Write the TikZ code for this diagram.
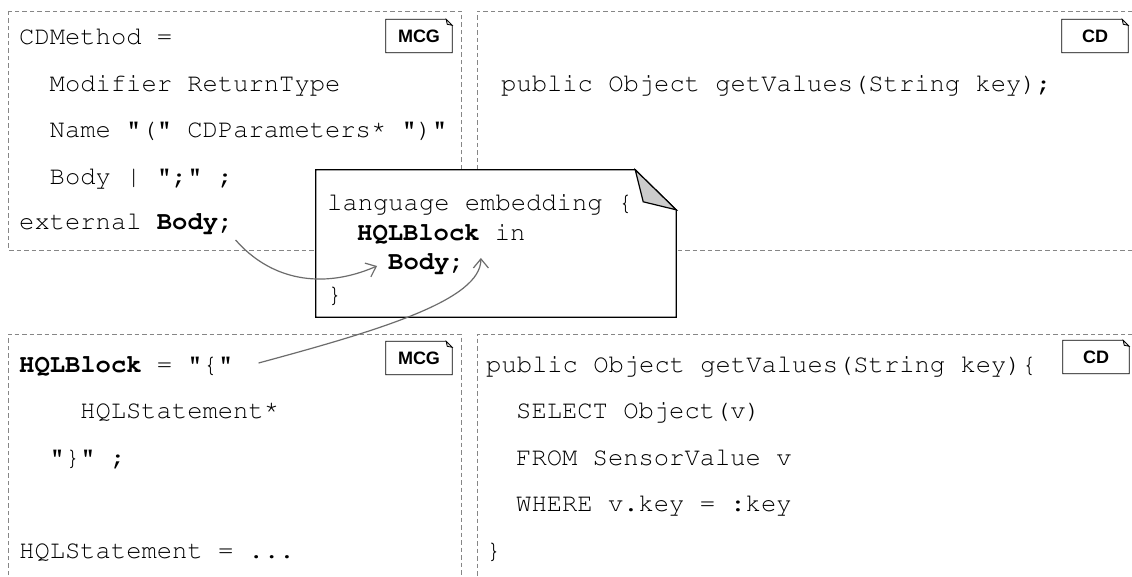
\documentclass[tikz,border=0pt]{standalone}
\usepackage[T1]{fontenc}
\usepackage{fontspec}
\newfontfamily\tagfont{Liberation Sans}
\newcommand{\cour}{\fontencoding{T1}\fontfamily{pcr}\fontsize{25.5}{30}\selectfont}
\newcommand{\raisedstar}{\raisebox{4pt}{*}}
\usetikzlibrary{arrows.meta,calc}
\newcommand{\dogear}[1]{%
  \draw[tagline] (#1.south west) -- (#1.north west) -- ([xshift=-6pt]#1.north east)
     -- ([yshift=-6pt]#1.north east) -- (#1.south east) -- cycle;
  \draw[tagline,fill=gray!25] ([xshift=-6pt]#1.north east) -- ([xshift=-5pt,yshift=-5pt]#1.north east)
     -- ([yshift=-6pt]#1.north east) -- cycle;}
\begin{document}
\begin{tikzpicture}[x=1pt,y=-1pt,
  code/.style={font=\cour, anchor=base west, inner sep=0pt},
  panel/.style={draw=gray!95, line width=0.9pt, dash pattern=on 4.5pt off 3pt},
  tag/.style={inner sep=0pt, minimum width=66pt, minimum height=33pt,
              font=\tagfont\bfseries\fontsize{18}{18}\selectfont},
  tagline/.style={draw=black, line width=0.8pt},
  notefr/.style={draw=black, line width=1.2pt, line join=miter},
  conn/.style={draw=gray!85!black, line width=1.2pt, -{Straight Barb[length=9pt,width=15pt]}}
]
\useasboundingbox (0,0) rectangle (1132,577);
\clip (0,0) rectangle (1132,577);
\fill[white] (0,0) rectangle (1132,577);

% panels
\draw[panel] (8,11) rectangle (461,250);
\draw[panel] (1140,11) -- (477,11) -- (477,250) -- (1140,250);
\draw[panel] (8,590) -- (8,334) -- (461,334) -- (461,590);
\draw[panel] (1140,334) -- (477,334) -- (477,590);

% tags
\node[tag] (t1) at (419,36) {MCG}; \dogear{t1}
\node[tag] (t2) at (1095,36) {CD}; \dogear{t2}
\node[tag] (t3) at (419,358) {MCG}; \dogear{t3}
\node[tag] (t4) at (1096,357) {CD}; \dogear{t4}

% top-left grammar
\node[code] (a1) at (19,45) {CDMethod =};
\node[code] (a2) at (49.5,92) {Modifier ReturnType};
\node[code] (a3) at (49.5,138) {Name "(" CDParameters\raisedstar{} ")"};
\node[code] (a4) at (49.5,185) {Body | ";" ;};
\node[code] (extbody) at (19,230) {external \textbf{Body;}};

% top-right
\node[code] (b1) at (501,92) {public Object getValues(String key);};

% bottom-left grammar
\node[code] (hqlb) at (19,372) {\textbf{HQLBlock} = "\{"};
\node[code] (c2) at (80,418) {HQLStatement\raisedstar};
\node[code] (c3) at (49.5,465) {"\}" ;};
\node[code] (c4) at (19,558) {HQLStatement = ...};

% bottom-right
\node[code] (d1) at (486,372) {public Object getValues(String key)\{};
\node[code] (d2) at (516,418) {SELECT Object(v)};
\node[code] (d3) at (516,465) {FROM SensorValue v};
\node[code] (d4) at (516,511) {WHERE v.key = :key};
\node[code] (d5) at (486,558) {\}};

% note
\node[inner sep=0pt, minimum width=360pt, minimum height=147pt] (note) at (496,243.5) {};
\draw[notefr, fill=white] (note.south west) -- (note.north west) -- ([xshift=-41pt]note.north east)
   -- ([yshift=-40pt]note.north east) -- (note.south east) -- cycle;
\draw[notefr, fill=gray!40] ([xshift=-41pt]note.north east) -- ([xshift=-33pt,yshift=-32pt]note.north east)
   -- ([yshift=-40pt]note.north east) -- cycle;
\node[code] (n1) at (327,211) {language embedding \{};
\node[code] (n2) at (357,241) {\textbf{HQLBlock} in};
\node[code] (nbody) at (388,270) {\textbf{Body;}};
\node[code] (n4) at (327,302) {\}};

% connectors
\draw[conn] ($(extbody.base east)+(2,10)$) .. controls +(35,40) and +(-55,24) .. ($(nbody.base west)+(-11,-4)$);
\draw[conn] ($(hqlb.base east)+(25,-9)$) .. controls +(122,-33) and +(0,42) .. ($(nbody.base east)+(16,-12)$);
\end{tikzpicture}
\end{document}
